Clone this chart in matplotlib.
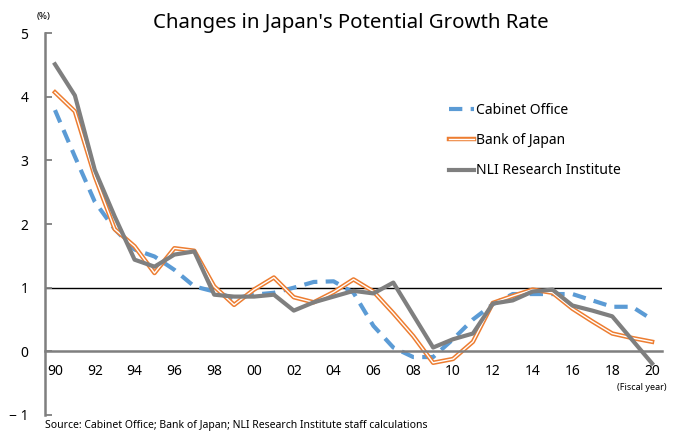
import matplotlib
matplotlib.use("Agg")
import matplotlib.pyplot as plt
import matplotlib.patheffects as pe

plt.rcParams['font.family'] = ['Noto Sans', 'DejaVu Sans']

# fiscal years 1990 - 2020
years = list(range(1990, 2021))
yearLabels = ["90", "92", "94", "96", "98", "00", "02", "04", "06", "08",
              "10", "12", "14", "16", "18", "20"]

cabinet = [3.79, 3.06, 2.35, 1.92, 1.60, 1.49, 1.28, 1.02, 0.94, 0.83,
           0.89, 0.92, 1.00, 1.09, 1.10, 0.92, 0.40, 0.06, -0.09, -0.09,
           0.19, 0.50, 0.74, 0.90, 0.90, 0.90, 0.90, 0.80, 0.70, 0.70, 0.50]
boj = [4.07, 3.77, 2.75, 1.92, 1.65, 1.23, 1.62, 1.58, 1.02, 0.73,
       0.97, 1.16, 0.85, 0.77, 0.93, 1.13, 0.94, 0.60, 0.24, -0.18,
       -0.12, 0.15, 0.76, 0.87, 0.97, 0.92, 0.67, 0.47, 0.28, 0.21, 0.15]
nli = [4.51, 4.02, 2.85, 2.12, 1.44, 1.33, 1.52, 1.57, 0.89, 0.86,
       0.86, 0.89, 0.64, 0.77, 0.86, 0.95, 0.91, 1.08, 0.57, 0.06,
       0.19, 0.28, 0.75, 0.80, 0.94, 0.97, 0.72, 0.64, 0.55, 0.18, -0.19]

fig = plt.figure(figsize=(6.74, 4.32), dpi=100)
ax = fig.add_axes([0.0668, 0.0394, 0.9154, 0.884])

ax.plot(years, cabinet, color='#5B9BD5', lw=3, dashes=(3.2, 2), label='Cabinet Office')
ax.plot(years, boj, color='white', lw=1.0, label='Bank of Japan',
        path_effects=[pe.Stroke(linewidth=3.2, foreground='#ED7D31'), pe.Normal()])
ax.plot(years, nli, color='#7F7F7F', lw=3, label='NLI Research Institute')

ax.axhline(1, color='black', lw=1, zorder=1)

ax.set_xlim(1989.5, 2020.5)
ax.set_ylim(-1, 5)
ax.set_yticks([-1, 0, 1, 2, 3, 4, 5])
ax.set_yticklabels(["\u2212 1", "0", "1", "2", "3", "4", "5"])
ax.set_xticks(years[::2])
ax.set_xticklabels(yearLabels)

for s in ['top', 'right']:
    ax.spines[s].set_visible(False)
ax.spines['left'].set_color('#7F7F7F')
ax.spines['left'].set_linewidth(1.8)
ax.spines['bottom'].set_position(('data', 0))
ax.spines['bottom'].set_color('#7F7F7F')
ax.spines['bottom'].set_linewidth(1.8)
ax.tick_params(axis='y', direction='in', length=5, width=1.3, color='#7F7F7F',
               labelsize=10, pad=12)
ax.tick_params(axis='x', length=0, labelsize=10, pad=9)

ax.set_title("Changes in Japan's Potential Growth Rate", fontsize=14.7, pad=1, x=0.495)
fig.text(0.064, 0.962, "(%)", fontsize=7, ha='center', va='center')
fig.text(0.952, 0.098, "(Fiscal year)", fontsize=6.5, ha='center')
fig.text(0.067, 0.003, "Source: Cabinet Office; Bank of Japan; NLI Research Institute staff calculations",
         fontsize=7.5, ha='left', va='bottom')

ax.legend(loc='upper left', bbox_to_anchor=(0.635, 0.85), frameon=False,
          fontsize=10, handlelength=1.8, handletextpad=0.1, labelspacing=1.1)

fig.savefig("out.png", dpi=100)
